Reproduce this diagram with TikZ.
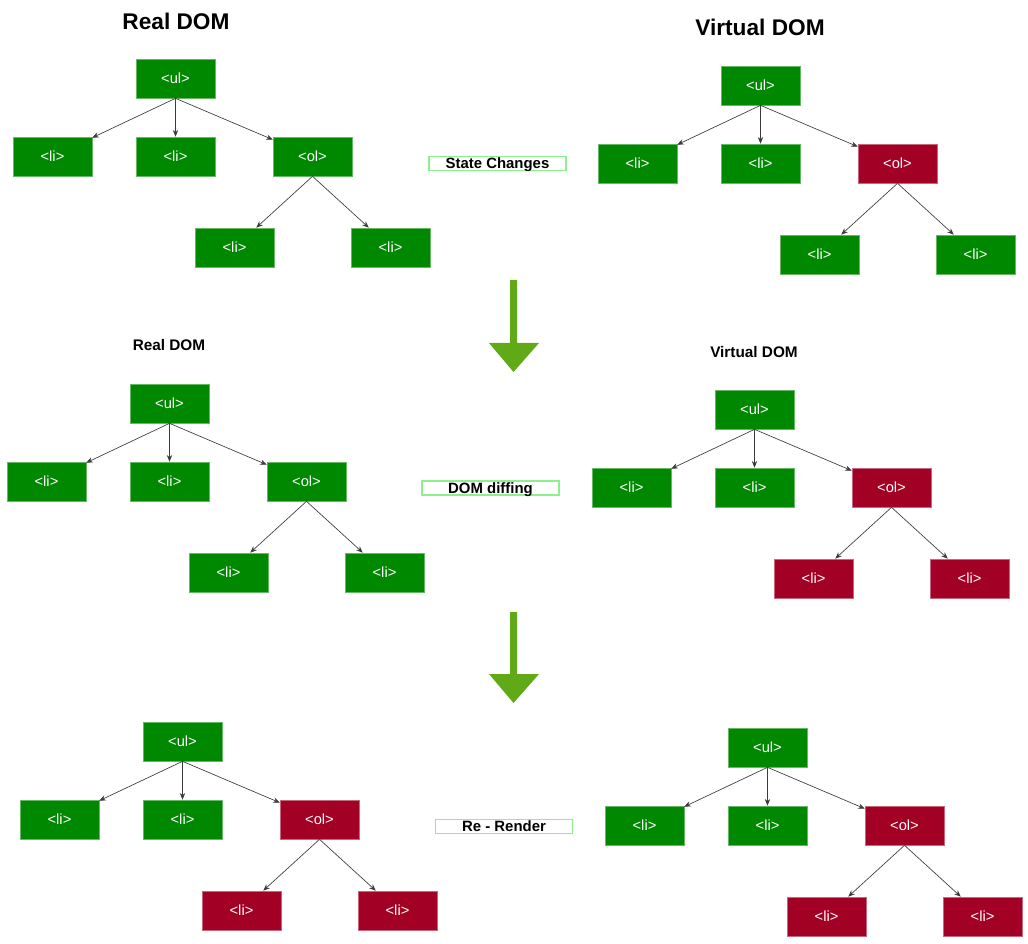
\documentclass[tikz,border=0pt]{standalone}
\usepackage{fontspec}
\setmainfont{Liberation Sans}
\usetikzlibrary{arrows.meta}
\definecolor{dgreen}{RGB}{0,136,0}
\definecolor{dred}{RGB}{162,0,37}
\definecolor{lgreen}{RGB}{140,240,140}
\definecolor{agreen}{RGB}{96,169,23}
\definecolor{lgray}{RGB}{60,60,60}
\tikzset{
  domnode/.style={fill=#1, draw=#1!60!white, line width=0.5pt,
    minimum width=59pt, minimum height=29.25pt, inner sep=0pt,
    text=white, font=\fontsize{11}{13}\selectfont},
  link/.style={draw=lgray, line width=0.5pt, -{Stealth[length=5pt,width=4pt]}},
  bigtitle/.style={font=\fontsize{17}{20}\selectfont\bfseries},
  smalltitle/.style={font=\fontsize{11.5}{14}\selectfont\bfseries},
  stepbox/.style={draw=lgreen, line width=1.1pt, minimum width=102.75pt,
    minimum height=10.5pt, inner sep=0pt, text height=9pt, text depth=1pt,
    font=\fontsize{11.2}{13}\selectfont\bfseries},
  bigarrow/.style={fill=agreen}
}
\newcommand\domtree[6]{%
  \begin{scope}[shift={(#2,#3)}]
    \node[domnode=dgreen] (#1ul) at (175.5,78.5) {<ul>};
    \node[domnode=dgreen] (#1la) at (52.5,156.5) {<li>};
    \node[domnode=dgreen] (#1lb) at (175.5,156.5) {<li>};
    \node[domnode=#4] (#1ol) at (312.5,156.5) {<ol>};
    \node[domnode=#5] (#1lc) at (234.5,247.5) {<li>};
    \node[domnode=#6] (#1ld) at (390.5,247.5) {<li>};
    \draw[link] (#1ul.south) -- (#1la);
    \draw[link] (#1ul.south) -- (#1lb.north);
    \draw[link] (#1ul.south) -- (#1ol);
    \draw[link] (#1ol.south) -- (#1lc);
    \draw[link] (#1ol.south) -- (#1ld);
  \end{scope}}
\begin{document}
\begin{tikzpicture}[x=0.75pt,y=-0.75pt]
\useasboundingbox (0,0) rectangle (1028,944);
\node[bigtitle] (t1) at (176,21) {Real DOM};
\node[bigtitle] (t2) at (760,27) {Virtual DOM};
\node[smalltitle] (t3) at (169,345) {Real DOM};
\node[smalltitle] (t4) at (754,352) {Virtual DOM};
\domtree{a}{0}{0}{dgreen}{dgreen}{dgreen}
\domtree{b}{585}{7}{dred}{dgreen}{dgreen}
\domtree{c}{-6}{325}{dgreen}{dgreen}{dgreen}
\domtree{d}{579}{331}{dred}{dred}{dred}
\domtree{e}{7}{663}{dred}{dred}{dred}
\domtree{f}{592}{669}{dred}{dred}{dred}
\node[stepbox] (s1) at (497.5,163.5) {State Changes};
\node[stepbox] (s2) at (490.5,488) {DOM diffing};
\node[stepbox] (s3) at (504,826.5) {Re - Render};
\fill[bigarrow] (510,280) -- (517,280) -- (517,343) -- (539,343) -- (513.5,372) -- (489,343) -- (510,343) -- cycle;
\fill[bigarrow] (510,612) -- (517,612) -- (517,674) -- (539,674) -- (513.5,703) -- (489,674) -- (510,674) -- cycle;
\end{tikzpicture}
\end{document}
